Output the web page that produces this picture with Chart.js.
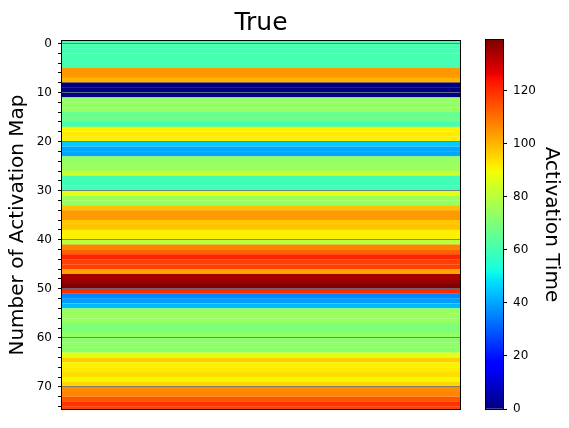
<!DOCTYPE html>
<html>
<head>
<meta charset="utf-8">
<script src="https://cdn.jsdelivr.net/npm/chart.js@4.4.0/dist/chart.umd.min.js"></script>
<style>
  body { margin: 0; background: #fff; }
  #wrap { position: relative; width: 569px; height: 428px; }
  canvas { position: absolute; top: 0; }
</style>
</head>
<body>
<div id="wrap">
  <canvas id="mainChart" width="569" height="428" style="left:0"></canvas>
  <canvas id="barChart" width="99" height="428" style="left:470px"></canvas>
</div>
<script>
// Activation time of each band of the map, top to bottom.
// Band i covers the map rows from i-1 to i.
const activationTime = [
  60, 61, 60, 61, 60, 61, 104, 104, 100, 0,
  0, 1, 74, 73, 74, 66, 67, 60, 91, 92,
  91, 45, 40, 40, 74, 74, 75, 83, 60, 59,
  60, 87, 75, 74, 98, 104, 104, 97, 98, 91,
  91, 80, 107, 112, 121, 117, 117, 102, 134, 136,
  139, 120, 36, 39, 43, 74, 75, 74, 70, 70,
  74, 72, 73, 72, 87, 96, 91, 92, 94, 90,
  95, 106, 107, 114, 119, 117
];
const rowTicks = [0, 2, 4, 6, 8, 10, 12, 14, 16, 18, 20, 22, 24, 26, 28, 30, 32, 34, 36,
  38, 40, 42, 44, 46, 48, 50, 52, 54, 56, 58, 60, 62, 64, 66, 68, 70, 72, 74];
const labelledRows = [0, 10, 20, 30, 40, 50, 60, 70];
const colorbarTicks = [0, 20, 40, 60, 80, 100, 120];
const vmin = 0;
const vmax = 139;

// matplotlib "jet" colormap
const jetSeg = {
  r: [[0, 0], [0.35, 0], [0.66, 1], [0.89, 1], [1, 0.5]],
  g: [[0, 0], [0.125, 0], [0.375, 1], [0.64, 1], [0.91, 0], [1, 0]],
  b: [[0, 0.5], [0.11, 1], [0.34, 1], [0.65, 0], [1, 0]],
};
function segValue(seg, t) {
  for (let i = 1; i < seg.length; i++) {
    if (t <= seg[i][0]) {
      const [x0, y0] = seg[i - 1];
      const [x1, y1] = seg[i];
      return y0 + (y1 - y0) * (t - x0) / (x1 - x0);
    }
  }
  return seg[seg.length - 1][1];
}
function jet(t) {
  t = Math.min(1, Math.max(0, t));
  const r = Math.round(255 * segValue(jetSeg.r, t));
  const g = Math.round(255 * segValue(jetSeg.g, t));
  const b = Math.round(255 * segValue(jetSeg.b, t));
  return `rgb(${r},${g},${b})`;
}

Chart.defaults.font.family = "DejaVu Sans";
Chart.defaults.color = "#000";

// black box round the plot area
const framePlugin = {
  id: "frame",
  afterDraw(chart) {
    const { ctx, chartArea: a } = chart;
    ctx.save();
    ctx.strokeStyle = "#000";
    ctx.lineWidth = 1;
    ctx.strokeRect(Math.round(a.left) - 0.5, Math.round(a.top) - 0.5,
      Math.round(a.right - a.left) + 1, Math.round(a.bottom - a.top) + 1);
    ctx.restore();
  },
};

new Chart("mainChart", {
  type: "bar",
  data: {
    datasets: [
      {
        data: activationTime.map((v, i) => ({ y: i - 0.5, x: [0, 1] })),
        backgroundColor: activationTime.map((v) => jet((v - vmin) / (vmax - vmin))),
        borderWidth: 0,
        barPercentage: 1.04,
        categoryPercentage: 1,
      },
    ],
  },
  options: {
    responsive: false,
    animation: false,
    devicePixelRatio: 1,
    indexAxis: "y",
    layout: { padding: { left: 0, top: 0, right: 109, bottom: 19 } },
    plugins: {
      legend: { display: false },
      tooltip: { enabled: false },
      title: {
        display: true,
        text: "True",
        fullSize: false,
        color: "#000",
        font: { size: 25, weight: "normal" },
        padding: { top: 8, bottom: 3 },
      },
    },
    scales: {
      x: { type: "linear", display: false, min: 0, max: 1 },
      y: {
        type: "linear",
        reverse: true,
        offset: false,
        min: -0.5,
        max: 74.5,
        afterFit: (scale) => {
          scale.width = 62;
          scale.paddingTop = 0;
          scale.paddingBottom = 0;
        },
        afterBuildTicks: (scale) => {
          scale.ticks = rowTicks.map((v) => ({ value: v }));
        },
        border: { display: false },
        grid: {
          offset: false,
          z: 1,
          lineWidth: 1,
          tickLength: 4,
          color: (ctx) =>
            ctx.tick && labelledRows.includes(ctx.tick.value) ? "rgba(110,110,130,0.85)" : "rgba(0,0,0,0)",
          tickColor: "#000",
        },
        ticks: {
          autoSkip: false,
          padding: 6,
          color: "#000",
          font: { size: 12 },
          callback: (value) => (labelledRows.includes(value) ? String(value) : ""),
        },
        title: {
          display: true,
          text: "Number of Activation Map",
          color: "#000",
          font: { size: 20 },
          padding: { top: 6, bottom: 0 },
        },
      },
    },
  },
  plugins: [framePlugin],
});

// colour bar
new Chart("barChart", {
  type: "bar",
  data: {
    labels: ["Activation Time"],
    datasets: [
      {
        data: [[vmin, vmax]],
        backgroundColor: (ctx) => {
          const chart = ctx.chart;
          if (!chart.chartArea) return null;
          const y = chart.scales.y;
          const grad = chart.ctx.createLinearGradient(0, y.getPixelForValue(vmin), 0, y.getPixelForValue(vmax));
          for (let i = 0; i <= 100; i++) {
            grad.addColorStop(i / 100, jet(i / 100));
          }
          return grad;
        },
        borderWidth: 0,
        barPercentage: 1,
        categoryPercentage: 1,
      },
    ],
  },
  options: {
    responsive: false,
    animation: false,
    devicePixelRatio: 1,
    layout: { padding: { left: 16, top: 40, right: 0, bottom: 19 } },
    plugins: {
      legend: { display: false },
      tooltip: { enabled: false },
    },
    scales: {
      x: { display: false },
      y: {
        position: "right",
        min: vmin,
        max: vmax,
        afterFit: (scale) => {
          scale.width = 66;
          scale.paddingTop = 0;
          scale.paddingBottom = 0;
        },
        afterBuildTicks: (scale) => {
          scale.ticks = colorbarTicks.map((v) => ({ value: v }));
        },
        border: { display: false },
        grid: { drawOnChartArea: false, tickLength: 4, tickColor: "#000" },
        ticks: { padding: 6, color: "#000", font: { size: 12 } },
        title: {
          display: true,
          text: "Activation Time",
          color: "#000",
          font: { size: 20 },
          padding: { top: 6, bottom: 0 },
        },
      },
    },
  },
  plugins: [framePlugin],
});
</script>
</body>
</html>
